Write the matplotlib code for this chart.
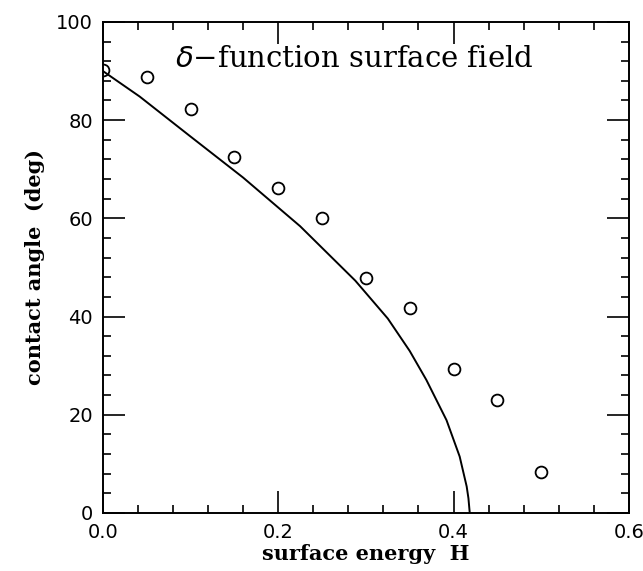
import matplotlib
matplotlib.use('Agg')
import matplotlib.pyplot as plt
from matplotlib.ticker import MultipleLocator

# measured contact angles (circles)
H_pts = [0.0, 0.05, 0.10, 0.15, 0.20, 0.25, 0.30, 0.35, 0.40, 0.45, 0.50]
theta_pts = [90.3, 88.8, 82.3, 72.5, 66.2, 60.1, 47.8, 41.8, 29.4, 23.0, 8.3]

# theory curve
H_curve = [0.0, 0.042, 0.099, 0.16, 0.225, 0.288, 0.325, 0.35, 0.369,
           0.392, 0.407, 0.415, 0.417, 0.4185]
theta_curve = [90.0, 84.8, 76.8, 68.3, 58.4, 47.3, 39.6, 33.0, 27.1,
               18.9, 11.5, 5.4, 3.0, 0.0]

plt.rcParams['font.family'] = ['DejaVu Serif']

fig = plt.figure(figsize=(6.43, 5.71), dpi=100)
ax = fig.add_axes([0.160, 0.1016, 0.818, 0.860])

ax.plot(H_curve, theta_curve, color='black', lw=1.4)
ax.plot(H_pts, theta_pts, 'o', mfc='none', mec='black', ms=8.5, mew=1.3)

ax.set_xlim(0, 0.6)
ax.set_ylim(0, 100)
ax.xaxis.set_minor_locator(MultipleLocator(0.04))
ax.yaxis.set_major_locator(MultipleLocator(20))
ax.yaxis.set_minor_locator(MultipleLocator(4))
ax.set_xticks([0, 0.2, 0.4, 0.6], ['0.0', '0.2', '0.4', '0.6'])
ax.tick_params(which='both', direction='in', top=True, right=True, labelsize=14, width=1.2)
ax.tick_params(which='major', length=16, pad=7)
ax.tick_params(which='minor', length=6)
for lab in ax.get_xticklabels() + ax.get_yticklabels():
    lab.set_family('DejaVu Sans')
for s in ax.spines.values():
    s.set_linewidth(1.4)

ax.text(0.082, 90.8, '$\\delta$\u2212function surface field', fontsize=21, ha='left', va='baseline')

ax.set_xlabel('surface energy  H', fontsize=15, fontweight='bold', labelpad=2)
ax.set_ylabel('contact angle  (deg)', fontsize=15, fontweight='bold', labelpad=8)

fig.savefig('out.png', dpi=100)
